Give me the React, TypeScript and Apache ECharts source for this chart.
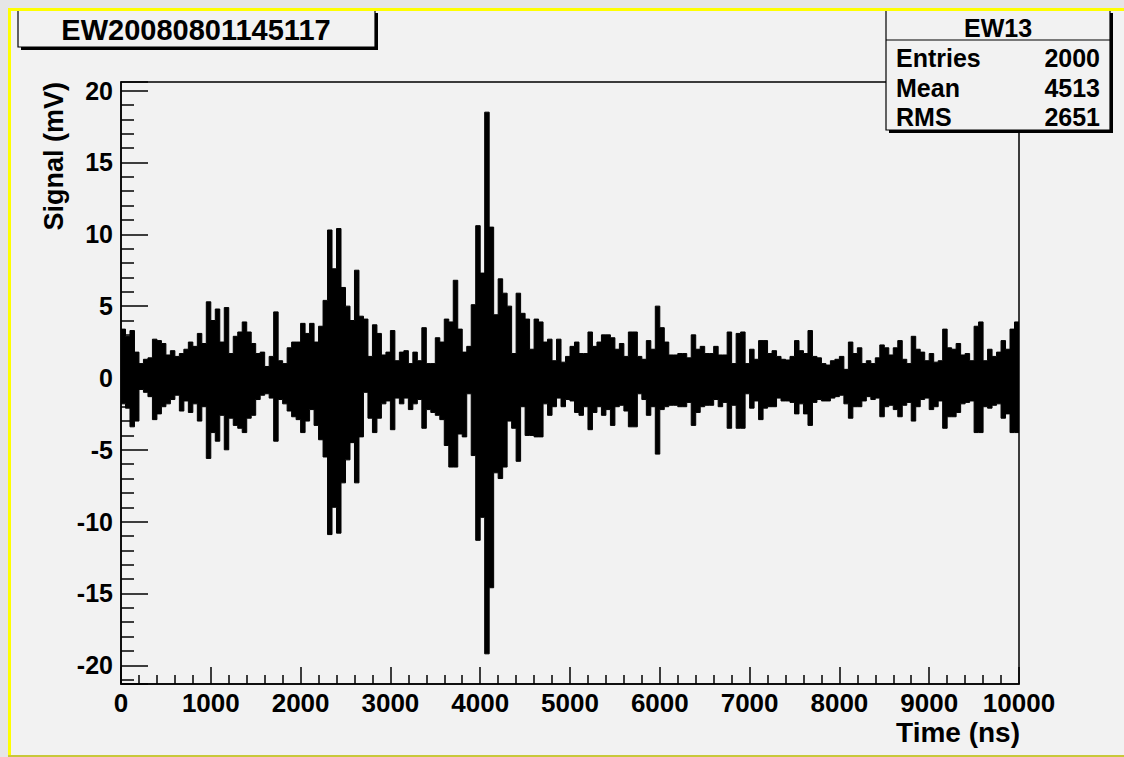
import React, { useEffect, useRef } from "react";
import * as echarts from "echarts";

// ---- data (max / min of the signal in each 50 ns slice) ----
const BIN_NS = 50;
const upperEnvelope = [
  3.4, 2.9, 3.3, 1.8, 1.0, 1.3, 1.4, 2.7, 2.6, 2.4,
  1.6, 1.9, 1.5, 1.7, 2.0, 2.5, 2.2, 3.1, 2.4, 5.3,
  4.0, 4.8, 2.5, 4.9, 1.7, 2.9, 3.2, 3.9, 3.2, 2.4,
  1.7, 1.8, 0.8, 1.5, 4.6, 1.2, 1.0, 2.1, 2.5, 2.5,
  3.8, 3.1, 3.8, 2.5, 3.6, 5.4, 10.3, 7.6, 10.4, 6.3,
  5.0, 4.0, 7.5, 4.3, 4.1, 1.5, 3.7, 3.1, 1.6, 1.8,
  3.3, 1.2, 1.8, 1.9, 1.0, 1.8, 1.2, 3.5, 1.0, 1.0,
  2.8, 2.5, 4.1, 3.9, 6.8, 3.4, 1.8, 2.2, 5.1, 10.6,
  7.3, 18.5, 10.5, 4.4, 6.9, 5.9, 5.0, 1.7, 5.9, 4.5,
  4.1, 2.0, 4.1, 3.9, 2.5, 2.7, 1.2, 2.7, 1.1, 1.5,
  2.2, 2.5, 1.7, 1.7, 3.2, 2.2, 2.5, 3.0, 3.0, 2.8,
  2.0, 2.4, 1.5, 3.2, 3.2, 1.5, 1.3, 2.6, 2.0, 5.0,
  3.5, 2.5, 1.6, 1.6, 1.7, 1.7, 1.4, 3.0, 2.0, 2.2,
  1.7, 1.7, 2.2, 1.6, 1.6, 3.2, 1.0, 3.1, 3.2, 1.0,
  2.0, 1.3, 2.6, 2.6, 1.7, 1.9, 1.5, 1.3, 1.25, 1.5,
  2.6, 1.9, 1.7, 3.3, 1.5, 1.4, 1.0, 0.9, 1.2, 1.3,
  1.5, 0.6, 2.5, 1.7, 2.1, 1.0, 1.2, 1.0, 1.4, 2.3,
  2.1, 1.6, 2.1, 2.6, 1.3, 1.0, 2.9, 2.0, 1.8, 1.2,
  1.7, 1.1, 1.2, 3.4, 2.1, 2.0, 2.4, 1.6, 1.7, 1.2,
  3.6, 3.9, 1.2, 2.0, 1.5, 1.8, 2.6, 2.0, 3.4, 3.9,
];
const lowerEnvelope = [
  -1.8, -2.1, -3.4, -3.0, -0.8, -1.0, -1.3, -2.9, -2.5, -2.0,
  -1.8, -1.5, -1.2, -2.3, -1.6, -2.4, -1.8, -3.0, -2.0, -5.6,
  -3.8, -4.4, -2.6, -5.0, -2.8, -3.3, -3.5, -3.8, -2.8, -2.6,
  -1.5, -1.2, -1.1, -1.4, -4.4, -1.5, -1.8, -2.3, -2.7, -2.9,
  -3.8, -3.0, -2.2, -3.3, -4.3, -5.5, -10.9, -9.0, -10.8, -7.3,
  -5.7, -4.5, -7.3, -4.1, -1.0, -2.8, -3.8, -2.8, -1.8, -1.6,
  -3.6, -1.4, -1.8, -1.4, -2.2, -1.8, -1.5, -3.5, -2.2, -2.4,
  -2.6, -2.9, -4.7, -6.2, -6.2, -3.9, -4.1, -1.1, -5.4, -11.3,
  -9.7, -19.2, -14.6, -6.6, -7.0, -6.2, -3.0, -3.5, -5.8, -2.0,
  -4.0, -4.0, -4.1, -4.1, -1.8, -2.6, -2.0, -1.4, -2.0, -1.5,
  -1.6, -2.4, -2.6, -2.0, -3.6, -2.4, -2.0, -2.6, -2.2, -3.3,
  -2.0, -1.9, -2.3, -3.4, -3.4, -1.1, -1.5, -2.6, -2.0, -5.3,
  -2.2, -2.0, -1.9, -1.9, -2.0, -2.0, -1.7, -3.3, -2.4, -2.0,
  -1.9, -1.9, -1.5, -2.0, -1.7, -3.5, -1.9, -3.5, -3.5, -1.1,
  -2.1, -1.6, -2.9, -2.1, -2.0, -2.0, -1.4, -1.6, -1.6, -1.7,
  -2.5, -1.8, -2.5, -3.3, -1.7, -1.5, -1.6, -1.6, -1.4, -1.3,
  -1.2, -1.8, -2.8, -2.0, -2.0, -1.6, -1.3, -1.5, -1.4, -2.7,
  -2.0, -1.9, -2.2, -2.7, -1.9, -1.7, -3.0, -2.0, -1.5, -1.4,
  -2.2, -2.0, -1.6, -3.5, -2.7, -2.7, -2.4, -1.8, -1.7, -1.6,
  -3.8, -3.8, -2.0, -2.1, -1.9, -1.8, -2.8, -2.5, -3.8, -3.8,
];

const chartTitle = "EW20080801145117";
const statsTitle = "EW13";
const statsLabels = ["Entries", "Mean", "RMS"];
const statsValues = ["2000", "4513", "2651"];
const xAxisTitle = "Time (ns)";
const yAxisTitle = "Signal (mV)";
const X_MIN = 0;
const X_MAX = 10000;
const X_STEP = 1000;
const Y_MIN = -21.3;
const Y_MAX = 20.6;

const FONT = '"Liberation Sans", Arial, Helvetica, sans-serif';
const BG = "#f2f2f2";

function toStepData(vals: number[]): number[][] {
  const d = vals.map((v, i) => [i * BIN_NS, v]);
  d.push([vals.length * BIN_NS, vals[vals.length - 1]]);
  return d;
}

export default function App() {
  const ref = useRef<HTMLDivElement>(null);

  useEffect(() => {
    if (!ref.current) return;
    const chart = echarts.init(ref.current, null, { renderer: "svg" });

    const tickStyle = { color: "#000", width: 1.5 };
    const rowY = [58, 88, 117];

    const graphics: any[] = [
      // outer strips & yellow highlight border
      { type: "rect", z: 90, shape: { x: 0, y: 0, width: 8, height: 757 }, style: { fill: "#e6e6e6" } },
      { type: "rect", z: 90, shape: { x: 0, y: 0, width: 1124, height: 8 }, style: { fill: "#e6e6e6" } },
      // title box
      { type: "rect", z: 95, shape: { x: 21, y: 13, width: 357, height: 37 }, style: { fill: "#000" } },
      { type: "rect", z: 96, shape: { x: 18, y: 10, width: 357, height: 37 }, style: { fill: BG, stroke: "#000", lineWidth: 1.2 } },
      {
        type: "text", z: 97, x: 196, y: 30,
        style: { text: chartTitle, fill: "#000", font: `bold 29px ${FONT}`, align: "center", verticalAlign: "middle" },
      },
      // stats box
      { type: "rect", z: 95, shape: { x: 889, y: 13, width: 224, height: 120 }, style: { fill: "#000" } },
      { type: "rect", z: 96, shape: { x: 886, y: 10, width: 224, height: 120 }, style: { fill: BG, stroke: "#000", lineWidth: 1.2 } },
      { type: "line", z: 97, shape: { x1: 886, y1: 40, x2: 1110, y2: 40 }, style: { stroke: "#000", lineWidth: 1.2 } },
      {
        type: "text", z: 97, x: 998, y: 28,
        style: { text: statsTitle, fill: "#000", font: `bold 25px ${FONT}`, align: "center", verticalAlign: "middle" },
      },
      ...statsLabels.map((t, i) => ({
        type: "text", z: 97, x: 896, y: rowY[i],
        style: { text: t, fill: "#000", font: `bold 25px ${FONT}`, align: "left", verticalAlign: "middle" },
      })),
      ...statsValues.map((t, i) => ({
        type: "text", z: 97, x: 1100, y: rowY[i],
        style: { text: t, fill: "#000", font: `bold 25px ${FONT}`, align: "right", verticalAlign: "middle" },
      })),
      // axis titles
      {
        type: "text", z: 97, x: 1020, y: 732,
        style: { text: xAxisTitle, fill: "#000", font: `bold 28px ${FONT}`, align: "right", verticalAlign: "middle" },
      },
      {
        type: "text", z: 97, x: 54, y: 82, rotation: Math.PI / 2,
        style: { text: yAxisTitle, fill: "#000", font: `bold 27px ${FONT}`, align: "right", verticalAlign: "middle" },
      },
      // yellow border on top
      { type: "line", z: 99, shape: { x1: 8, y1: 9.5, x2: 1124, y2: 9.5 }, style: { stroke: "#ffff00", lineWidth: 3 } },
      { type: "line", z: 99, shape: { x1: 9.5, y1: 8, x2: 9.5, y2: 757 }, style: { stroke: "#ffff00", lineWidth: 3 } },
      { type: "line", z: 99, shape: { x1: 8, y1: 756, x2: 1124, y2: 756 }, style: { stroke: "#c8c83a", lineWidth: 2 } },
    ];

    const option: any = {
      animation: false,
      backgroundColor: BG,
      grid: {
        left: 121, right: 105, top: 82, bottom: 73,
        show: true, borderColor: "#000", borderWidth: 1.5, backgroundColor: "transparent",
        containLabel: false,
      },
      xAxis: {
        type: "value", min: X_MIN, max: X_MAX, interval: X_STEP,
        axisLine: { show: true, onZero: false, lineStyle: { color: "#000", width: 1.5 } },
        axisTick: { show: true, inside: true, length: 17, lineStyle: tickStyle },
        minorTick: { show: true, splitNumber: 5, length: 9, lineStyle: tickStyle },
        splitLine: { show: false },
        minorSplitLine: { show: false },
        axisLabel: {
          color: "#000", fontSize: 26, fontWeight: "bold", fontFamily: FONT, margin: 6,
          showMinLabel: true, showMaxLabel: true, hideOverlap: false,
          formatter: (v: number) => String(Math.round(v)),
        },
      },
      yAxis: {
        type: "value", min: Y_MIN, max: Y_MAX, splitNumber: 8,
        axisLine: { show: true, onZero: false, lineStyle: { color: "#000", width: 1.5 } },
        axisTick: { show: true, inside: true, length: 27, lineStyle: tickStyle },
        minorTick: { show: true, splitNumber: 5, length: 13, lineStyle: tickStyle },
        splitLine: { show: false },
        minorSplitLine: { show: false },
        axisLabel: {
          color: "#000", fontSize: 25, fontWeight: "bold", fontFamily: FONT, margin: 8,
          formatter: (v: number) => (Math.abs(v / 5 - Math.round(v / 5)) < 1e-6 ? String(Math.round(v)) : ""),
        },
      },
      series: [
        {
          type: "line", data: toStepData(upperEnvelope), step: "end", symbol: "none", silent: true,
          lineStyle: { color: "#000", width: 1 }, areaStyle: { color: "#000", opacity: 1 },
        },
        {
          type: "line", data: toStepData(lowerEnvelope), step: "end", symbol: "none", silent: true,
          lineStyle: { color: "#000", width: 1 }, areaStyle: { color: "#000", opacity: 1 },
        },
      ],
      graphic: { elements: graphics },
    };

    chart.setOption(option);
    return () => chart.dispose();
  }, []);

  return (
    <div
      ref={ref}
      style={{ position: "fixed", left: 0, top: 0, width: 1124, height: 757 }}
    />
  );
}
